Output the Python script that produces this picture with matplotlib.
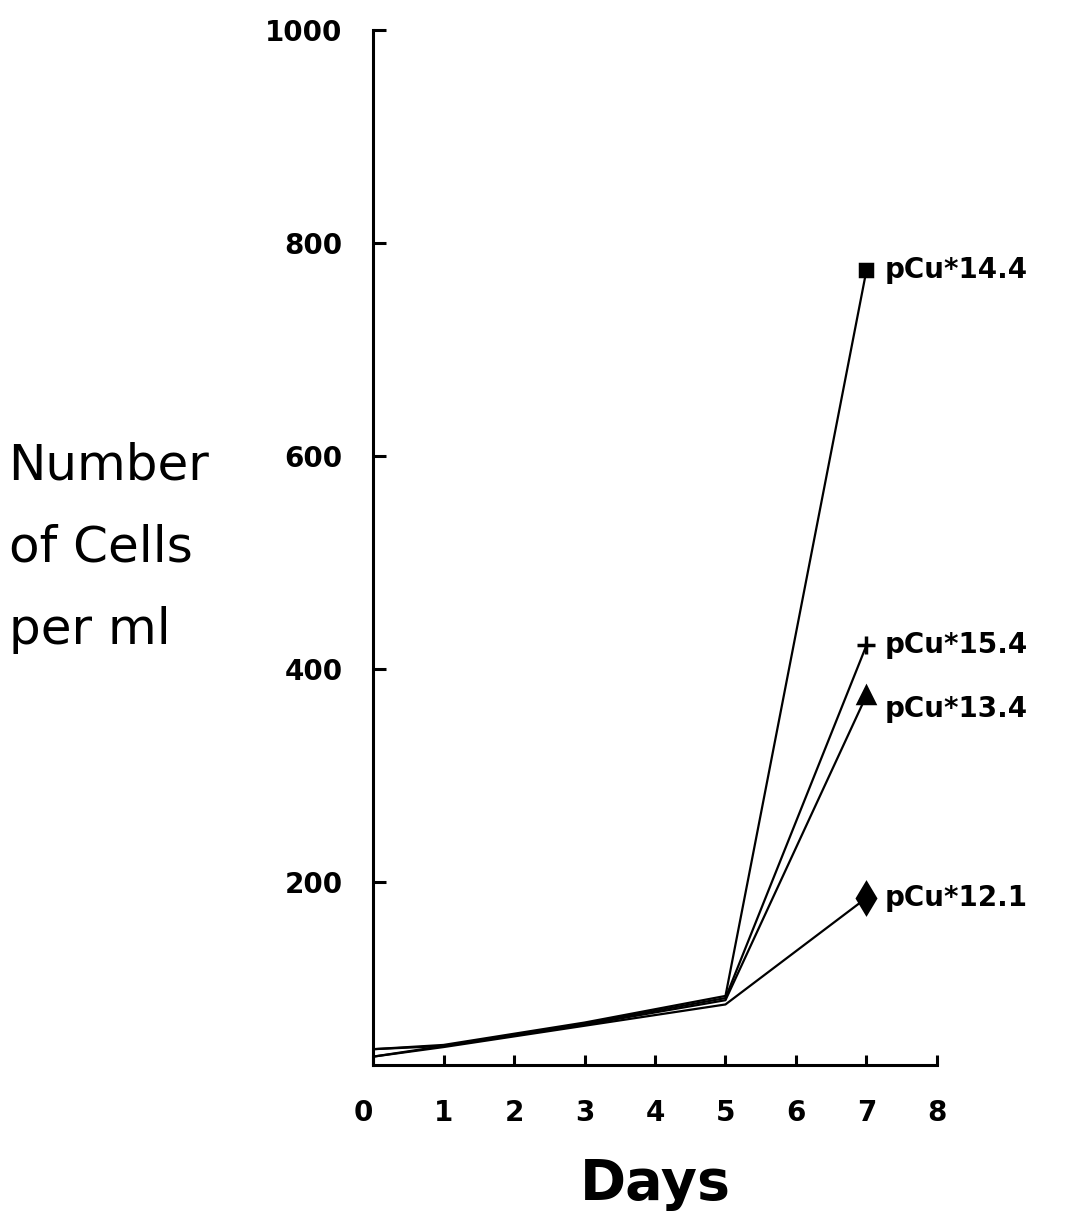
import numpy as np
import matplotlib.pyplot as plt
from matplotlib.transforms import ScaledTranslation

plt.rcParams['font.family'] = ['DejaVu Sans']

days = [0, 1, 3, 5, 7]

# cells per ml
cu_14_4 = [43, 47, 68, 93, 774]
cu_15_4 = [36, 46, 67, 91, 422]
cu_13_4 = [43, 46, 66, 89, 375]
cu_12_1 = [36, 45, 65, 85, 185]

series = [
    (cu_14_4, 's', 9, 'pCu*14.4', 0),
    (cu_15_4, '+', 13, 'pCu*15.4', 0),
    (cu_13_4, '^', 12, 'pCu*13.4', -10),
    (cu_12_1, 'd', 15, 'pCu*12.1', 0),
]

x_ticks = [0, 1, 2, 3, 4, 5, 6, 7, 8]
x_ticklabels = ['0', '1', '2', '3', '4', '5', '6', '7', '8']
y_ticks = [200, 400, 600, 800, 1000]

fig = plt.figure(figsize=(10.72, 12.30), dpi=100)
ax = fig.add_axes([0.348, 0.134, 0.526, 0.842])

for vals, mk, ms, lab, dy in series:
    ax.plot(days, vals, color='black', lw=1.6, marker=mk, markevery=[-1],
            ms=ms, mew=2.5, mfc='black', mec='black')
    ax.annotate(lab, (days[-1], vals[-1]), xytext=(13, dy), textcoords='offset points',
                fontsize=20, fontweight='bold', va='center', ha='left')

ax.set_xlim(0, 8)
ax.set_ylim(28, 1000)
ax.spines['top'].set_visible(False)
ax.spines['right'].set_visible(False)
ax.spines['left'].set_linewidth(2.2)
ax.spines['bottom'].set_linewidth(2.2)

ax.set_xticks(x_ticks)
ax.set_xticklabels(x_ticklabels, fontsize=20, fontweight='bold')
ax.set_yticks(y_ticks)
ax.set_yticklabels([str(v) for v in y_ticks], fontsize=20, fontweight='bold')
ax.tick_params(axis='x', direction='in', length=7, width=2.2, pad=24)
ax.tick_params(axis='y', direction='in', length=9, width=2.2, pad=22)

# nudge the "0" label left of the corner like the original
zero = ax.get_xticklabels()[0]
zero.set_transform(zero.get_transform() + ScaledTranslation(-10 / 100, 0, fig.dpi_scale_trans))

ax.set_xlabel('Days', fontsize=40, fontweight='bold', labelpad=22)
fig.text(0.008, 1 - 548 / 1230, 'Number\nof Cells\nper ml', fontsize=36,
         ha='left', va='center', linespacing=1.9)

fig.savefig('out.png', dpi=100)
